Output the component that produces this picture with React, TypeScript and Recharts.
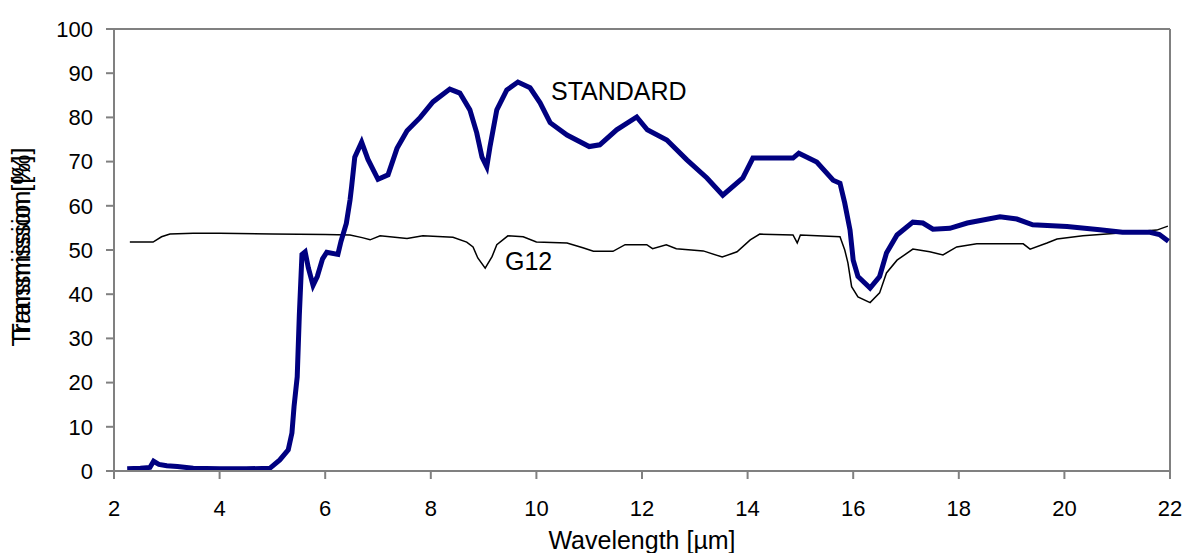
import { LineChart, Line, XAxis, YAxis, ReferenceLine } from 'recharts'

const stdWavelength = [
  2.25, 2.5, 2.68, 2.75, 2.85, 3.0, 3.2, 3.5, 4.0, 4.5, 4.95, 5.14, 5.3, 5.37, 5.41, 5.47, 5.51, 5.56,
  5.62, 5.68, 5.77, 5.85, 5.95, 6.03, 6.24, 6.3, 6.4, 6.47, 6.5, 6.56, 6.69, 6.81, 7.0, 7.19, 7.36,
  7.55, 7.8, 8.04, 8.36, 8.55, 8.74, 8.87, 8.97, 9.06, 9.12, 9.25, 9.44, 9.65, 9.88, 10.07, 10.26,
  10.58, 11.0, 11.2, 11.52, 11.9, 12.1, 12.47, 12.85, 13.23, 13.53, 13.91, 14.1, 14.86, 14.97, 15.31,
  15.62, 15.75, 15.84, 15.94, 16.0, 16.09, 16.32, 16.5, 16.63, 16.83, 17.13, 17.32, 17.51, 17.83,
  18.16, 18.78, 19.1, 19.4, 20.05, 20.67, 21.1, 21.62, 21.8, 21.97,
]
const stdTransmission = [
  0.5, 0.6, 0.8, 2.2, 1.5, 1.2, 1.0, 0.6, 0.5, 0.5, 0.6, 2.5, 4.8, 8.6, 14.6, 21.3, 35.3, 49.0,
  49.6, 46, 42, 44, 48, 49.5, 49, 52, 56, 61.3, 64.3, 71, 74.4, 70.5, 66, 67, 73,
  77, 80, 83.5, 86.4, 85.5, 81.7, 76.5, 71, 68.8, 73.3, 81.7, 86.2, 88, 86.7, 83.3, 78.8,
  76, 73.4, 73.8, 77.2, 80.1, 77.2, 74.9, 70.4, 66.3, 62.4, 66.3, 70.8, 70.8, 71.9, 69.9,
  65.8, 65.1, 60.6, 54.5, 47.7, 44, 41.4, 44, 49.3, 53.4, 56.3, 56.1, 54.7, 54.9,
  56.1, 57.5, 57, 55.7, 55.3, 54.6, 54, 54, 53.5, 52,
]

const g12Wavelength = [
  2.3, 2.74, 2.9, 3.06, 3.5, 4.0, 5.0, 6.0, 6.47, 6.7, 6.85, 7.04, 7.55, 7.85, 8.42, 8.68, 8.8, 8.89,
  9.03, 9.16, 9.25, 9.46, 9.75, 10.0, 10.58, 10.88, 11.08, 11.45, 11.68, 12.09, 12.2, 12.46, 12.65,
  13.16, 13.52, 13.8, 14.05, 14.23, 14.86, 14.94, 15.0, 15.75, 15.84, 15.9, 15.97, 16.09, 16.32, 16.5,
  16.63, 16.83, 17.13, 17.45, 17.7, 17.96, 18.34, 19.22, 19.35, 19.67, 19.86, 20.35, 20.99, 21.75, 21.96,
]
const g12Transmission = [
  51.8, 51.8, 53, 53.6, 53.8, 53.8, 53.6, 53.5, 53.4, 52.8, 52.3, 53.2, 52.6, 53.2, 52.9, 51.8, 50.7, 48.2,
  45.9, 48.5, 51.2, 53.2, 53, 51.8, 51.6, 50.5, 49.7, 49.7, 51.2, 51.2, 50.3, 51.2, 50.3,
  49.8, 48.4, 49.6, 52.3, 53.6, 53.4, 51.6, 53.4, 53, 50, 47.1, 41.7, 39.4, 38.1, 40.3,
  44.8, 47.7, 50.2, 49.6, 48.9, 50.7, 51.4, 51.4, 50.2, 51.6, 52.5, 53.2, 53.8, 54.5, 55.4,
]

const xTicks = [2, 4, 6, 8, 10, 12, 14, 16, 18, 20, 22]
const yTicks = [0, 10, 20, 30, 40, 50, 60, 70, 80, 90, 100]

const stdData = stdWavelength.map((x, i) => ({ x, y: stdTransmission[i] }))
const g12Data = g12Wavelength.map((x, i) => ({ x, y: g12Transmission[i] }))

const FONT = "Arial, 'Liberation Sans', sans-serif"
const AXIS = '#808080'

export default function App() {
  return (
    <div style={{ position: 'absolute', left: 0, top: 0, width: 1185, height: 553, overflow: 'hidden', fontFamily: FONT, background: '#fff' }}>
      <LineChart width={1185} height={553} margin={{ top: 29, right: 15, bottom: 0, left: 0 }}>
        <XAxis
          type="number"
          dataKey="x"
          domain={[2, 22]}
          ticks={xTicks}
          allowDataOverflow
          height={82}
          stroke={AXIS}
          strokeWidth={2}
          tickSize={8}
          tickMargin={21}
          tick={{ fill: '#000', fontSize: 22, fontFamily: FONT }}
        />
        <YAxis
          type="number"
          domain={[0, 100]}
          ticks={yTicks}
          width={114}
          stroke={AXIS}
          strokeWidth={2}
          tickSize={8}
          tickMargin={13}
          tick={{ fill: '#000', fontSize: 22, fontFamily: FONT }}
        />
        <ReferenceLine y={100} stroke={AXIS} strokeWidth={2} />
        <ReferenceLine x={22} stroke={AXIS} strokeWidth={2} />
        <Line data={g12Data} dataKey="y" type="linear" stroke="#000" strokeWidth={1.5} dot={false} isAnimationActive={false} />
        <Line data={stdData} dataKey="y" type="linear" stroke="#000080" strokeWidth={5} dot={false} isAnimationActive={false} />
      </LineChart>
      <svg width={1185} height={553} style={{ position: 'absolute', left: 0, top: 0, pointerEvents: 'none' }} fontFamily={FONT}>
        <text x={551} y={100} fontSize={25} fill="#000">STANDARD</text>
        <text x={505} y={270} fontSize={25} fill="#000">G12</text>
        <text x={642} y={549} fontSize={25} fill="#000" textAnchor="middle">Wavelength [µm]</text>
        <text x={30} y={243} fontSize={25} fill="#000" textAnchor="middle" transform="rotate(-90 30 243)">Transmission [%]</text>
        <text x={30} y={251} fontSize={25} fill="#000" textAnchor="middle" transform="rotate(-90 30 251)">Transmission [%]</text>
      </svg>
    </div>
  )
}
